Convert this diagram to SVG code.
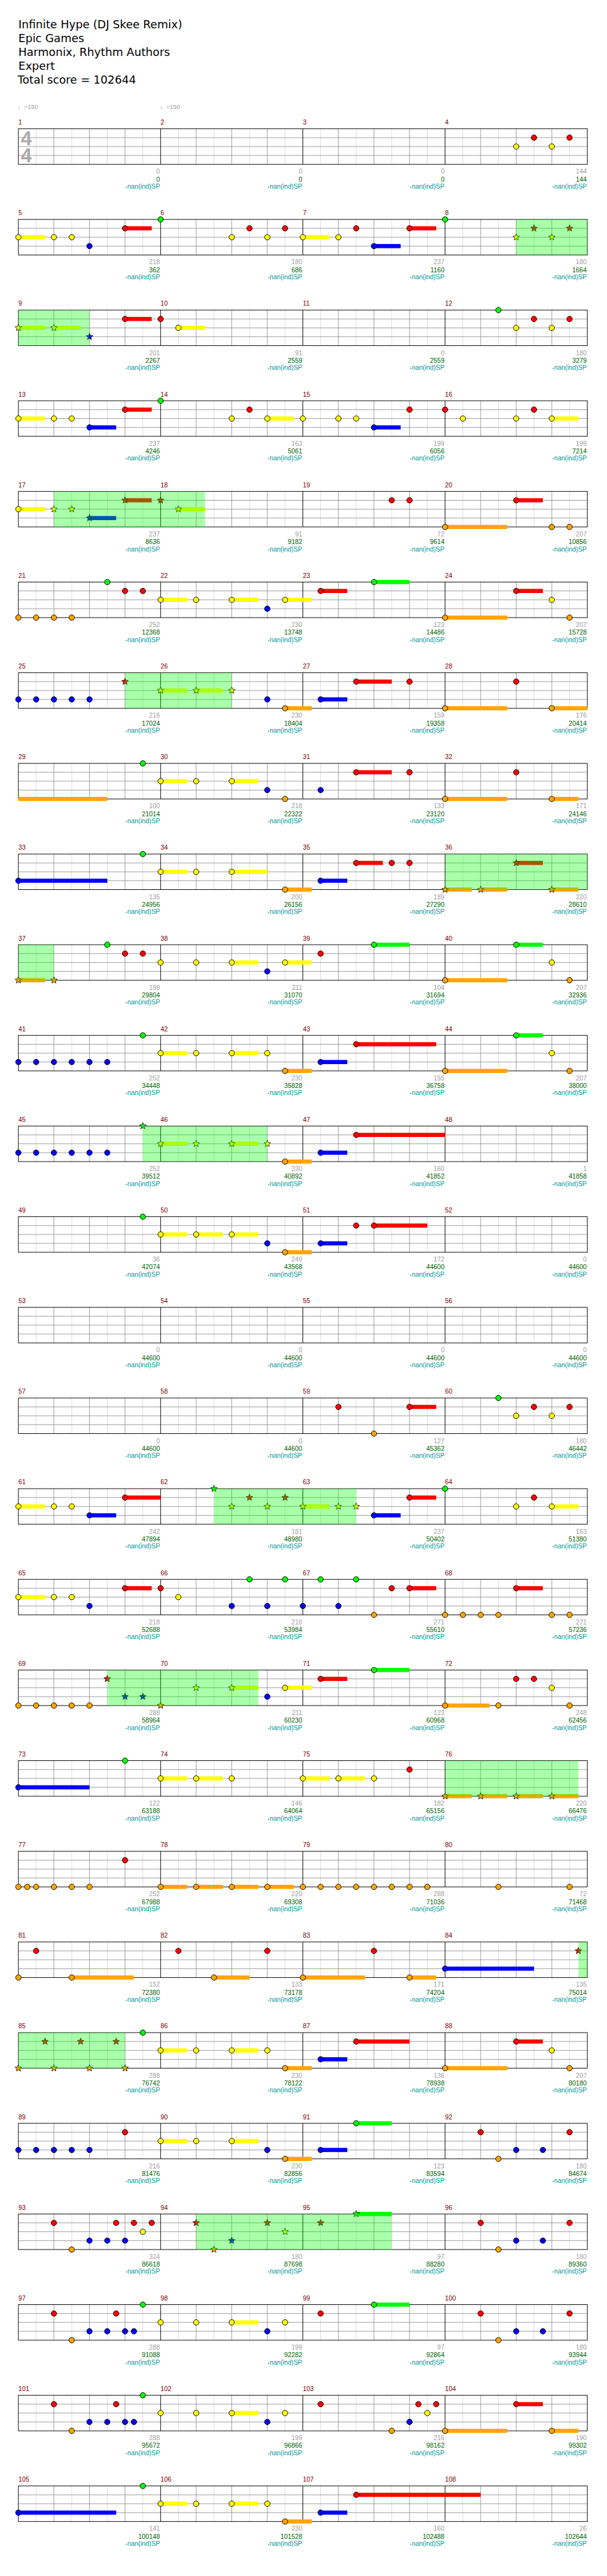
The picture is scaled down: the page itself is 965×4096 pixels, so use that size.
<svg xmlns="http://www.w3.org/2000/svg" xmlns:xlink="http://www.w3.org/1999/xlink" width="965" height="4096" viewBox="0 0 965 4096">
<style>
.t{font-family:"DejaVu Sans",sans-serif;font-size:18.8px;fill:#000}
.row{font-family:"Liberation Sans",Arial,sans-serif;font-size:11px}
.tempo{font-family:"Liberation Sans","DejaVu Sans",sans-serif;font-size:10.5px;fill:#999}
.ts{font-family:"Liberation Sans",Arial,sans-serif;font-size:33px;font-weight:bold;fill:#aaa}
.m{fill:#800000}
.a{fill:#a0a0a0;text-anchor:end}
.b{fill:#006400;text-anchor:end}
.c{fill:#009999;text-anchor:end}
.sp{fill:#00ff00;fill-opacity:0.333}
.n{stroke:#000;stroke-width:1}
.hg{fill:#00ff00}.hr{fill:#ff0000}.hy{fill:#ffff00}.hb{fill:#0000ff}.ho{fill:#ffa500}
</style>
<defs>
<g id="staff">
<path d="M30 0v60M90 0v60M150 0v60M210 0v60M270 0v60M330 0v60M390 0v60M450 0v60M510 0v60M570 0v60M630 0v60M690 0v60M750 0v60M810 0v60M870 0v60M930 0v60" stroke="#dcdcdc" fill="none"/>
<path d="M0 15h960M0 30h960M0 45h960M60 0v60M120 0v60M180 0v60M300 0v60M360 0v60M420 0v60M540 0v60M600 0v60M660 0v60M780 0v60M840 0v60M900 0v60" stroke="#999" fill="none"/>
<path d="M240 0v60M480 0v60M720 0v60" stroke="#000" fill="none"/>
<rect width="960" height="60" fill="none" stroke="#000"/>
</g>
<circle id="g" r="4.6" fill="#00ff00" class="n"/>
<circle id="r" cy="15" r="4.6" fill="#ff0000" class="n"/>
<circle id="y" cy="30" r="4.6" fill="#ffff00" class="n"/>
<circle id="b" cy="45" r="4.6" fill="#0000ff" class="n"/>
<circle id="o" cy="60" r="4.6" fill="#ffa500" class="n"/>
<path id="S" d="M0-6L1.53-2.1L5.71-1.85L2.47 .8L3.53 4.85L0 2.6L-3.53 4.85L-2.47 .8L-5.71-1.85L-1.53-2.1Z" stroke="#000" stroke-width="0.8"/>
<use id="sg" href="#S" fill="#00ff00"/>
<use id="sr" href="#S" y="15" fill="#ff0000"/>
<use id="sy" href="#S" y="30" fill="#ffff00"/>
<use id="sb" href="#S" y="45" fill="#0000ff"/>
<use id="so" href="#S" y="60" fill="#ffa500"/>
</defs>
<rect width="965" height="4096" fill="#fff"/>
<g transform="scale(0.9422)">
<g id="header" class="t">
<text x="31" y="48">Infinite Hype (DJ Skee Remix)</text>
<text x="31" y="71">Epic Games</text>
<text x="31" y="94.5">Harmonix, Rhythm Authors</text>
<text x="31" y="118">Expert</text>
<text x="29.7" y="141">Total score = 102644</text>
</g>
<g id="tempo" class="tempo">
<text x="30" y="184">♩=150</text>
<text x="270" y="184">♩=150</text>
</g>

<g id="row1" class="row" transform="translate(31 217.3)"><use href="#staff"/>
<text class="ts" x="4.3" y="28">4</text><text class="ts" x="4.3" y="57">4</text>
<g id="m1"><text class="m" x="0" y="-7">1</text><text class="a" x="239" y="76">0</text><text class="b" x="239" y="89">0</text><text class="c" x="239" y="101">-nan(ind)SP</text></g>
<g id="m2"><text class="m" x="240" y="-7">2</text><text class="a" x="479" y="76">0</text><text class="b" x="479" y="89">0</text><text class="c" x="479" y="101">-nan(ind)SP</text></g>
<g id="m3"><text class="m" x="480" y="-7">3</text><text class="a" x="719" y="76">0</text><text class="b" x="719" y="89">0</text><text class="c" x="719" y="101">-nan(ind)SP</text></g>
<g id="m4"><text class="m" x="720" y="-7">4</text><text class="a" x="959" y="76">144</text><text class="b" x="959" y="89">144</text><text class="c" x="959" y="101">-nan(ind)SP</text>
<use href="#y" x="840"/><use href="#r" x="870"/><use href="#y" x="900"/><use href="#r" x="930"/></g>
</g>

<g id="row2" class="row" transform="translate(31 370.3)"><use href="#staff"/>
<g id="m5"><text class="m" x="0" y="-7">5</text><text class="a" x="239" y="76">218</text><text class="b" x="239" y="89">362</text><text class="c" x="239" y="101">-nan(ind)SP</text>
<rect class="hy" x="0" y="26.5" width="45" height="7"/><rect class="hr" x="180" y="11.5" width="45" height="7"/>
<use href="#y" x="0"/><use href="#y" x="60"/><use href="#y" x="90"/><use href="#b" x="120"/><use href="#r" x="180"/></g>
<g id="m6"><text class="m" x="240" y="-7">6</text><text class="a" x="479" y="76">180</text><text class="b" x="479" y="89">686</text><text class="c" x="479" y="101">-nan(ind)SP</text>
<use href="#g" x="240"/><use href="#y" x="360"/><use href="#r" x="390"/><use href="#y" x="420"/><use href="#r" x="450"/></g>
<g id="m7"><text class="m" x="480" y="-7">7</text><text class="a" x="719" y="76">237</text><text class="b" x="719" y="89">1160</text><text class="c" x="719" y="101">-nan(ind)SP</text>
<rect class="hy" x="480" y="26.5" width="45" height="7"/><rect class="hb" x="600" y="41.5" width="45" height="7"/><rect class="hr" x="660" y="11.5" width="45" height="7"/>
<use href="#y" x="480"/><use href="#y" x="540"/><use href="#r" x="570"/><use href="#b" x="600"/><use href="#r" x="660"/></g>
<g id="m8"><text class="m" x="720" y="-7">8</text><text class="a" x="959" y="76">180</text><text class="b" x="959" y="89">1664</text><text class="c" x="959" y="101">-nan(ind)SP</text>
<use href="#g" x="720"/><use href="#sy" x="840"/><use href="#sr" x="870"/><use href="#sy" x="900"/><use href="#sr" x="930"/></g>
<rect class="sp" x="840" y="0" width="120" height="60"/>
</g>

<g id="row3" class="row" transform="translate(31 523.3)"><use href="#staff"/>
<g id="m9"><text class="m" x="0" y="-7">9</text><text class="a" x="239" y="76">201</text><text class="b" x="239" y="89">2267</text><text class="c" x="239" y="101">-nan(ind)SP</text>
<rect class="hy" x="0" y="26.5" width="45" height="7"/><rect class="hy" x="60" y="26.5" width="45" height="7"/><rect class="hr" x="180" y="11.5" width="45" height="7"/>
<use href="#sy" x="0"/><use href="#sy" x="60"/><use href="#sb" x="120"/><use href="#r" x="180"/></g>
<g id="m10"><text class="m" x="240" y="-7">10</text><text class="a" x="479" y="76">91</text><text class="b" x="479" y="89">2559</text><text class="c" x="479" y="101">-nan(ind)SP</text>
<rect class="hy" x="270" y="26.5" width="45" height="7"/>
<use href="#r" x="240"/><use href="#y" x="270"/></g>
<g id="m11"><text class="m" x="480" y="-7">11</text><text class="a" x="719" y="76">0</text><text class="b" x="719" y="89">2559</text><text class="c" x="719" y="101">-nan(ind)SP</text></g>
<g id="m12"><text class="m" x="720" y="-7">12</text><text class="a" x="959" y="76">180</text><text class="b" x="959" y="89">3279</text><text class="c" x="959" y="101">-nan(ind)SP</text>
<use href="#g" x="810"/><use href="#y" x="840"/><use href="#r" x="870"/><use href="#y" x="900"/><use href="#r" x="930"/></g>
<rect class="sp" x="0" y="0" width="120" height="60"/>
</g>

<g id="row4" class="row" transform="translate(31 676.3)"><use href="#staff"/>
<g id="m13"><text class="m" x="0" y="-7">13</text><text class="a" x="239" y="76">237</text><text class="b" x="239" y="89">4246</text><text class="c" x="239" y="101">-nan(ind)SP</text>
<rect class="hy" x="0" y="26.5" width="45" height="7"/><rect class="hb" x="120" y="41.5" width="45" height="7"/><rect class="hr" x="180" y="11.5" width="45" height="7"/>
<use href="#y" x="0"/><use href="#y" x="60"/><use href="#y" x="90"/><use href="#b" x="120"/><use href="#r" x="180"/></g>
<g id="m14"><text class="m" x="240" y="-7">14</text><text class="a" x="479" y="76">163</text><text class="b" x="479" y="89">5061</text><text class="c" x="479" y="101">-nan(ind)SP</text>
<rect class="hy" x="420" y="26.5" width="45" height="7"/>
<use href="#g" x="240"/><use href="#y" x="360"/><use href="#r" x="390"/><use href="#y" x="420"/></g>
<g id="m15"><text class="m" x="480" y="-7">15</text><text class="a" x="719" y="76">199</text><text class="b" x="719" y="89">6056</text><text class="c" x="719" y="101">-nan(ind)SP</text>
<rect class="hb" x="600" y="41.5" width="45" height="7"/>
<use href="#y" x="480"/><use href="#y" x="540"/><use href="#y" x="570"/><use href="#b" x="600"/><use href="#r" x="660"/></g>
<g id="m16"><text class="m" x="720" y="-7">16</text><text class="a" x="959" y="76">199</text><text class="b" x="959" y="89">7214</text><text class="c" x="959" y="101">-nan(ind)SP</text>
<rect class="hy" x="900" y="26.5" width="45" height="7"/>
<use href="#r" x="720"/><use href="#y" x="750"/><use href="#y" x="840"/><use href="#r" x="870"/><use href="#y" x="900"/></g>
</g>

<g id="row5" class="row" transform="translate(31 829.3)"><use href="#staff"/>
<g id="m17"><text class="m" x="0" y="-7">17</text><text class="a" x="239" y="76">237</text><text class="b" x="239" y="89">8636</text><text class="c" x="239" y="101">-nan(ind)SP</text>
<rect class="hy" x="0" y="26.5" width="45" height="7"/><rect class="hb" x="120" y="41.5" width="45" height="7"/><rect class="hr" x="180" y="11.5" width="45" height="7"/>
<use href="#y" x="0"/><use href="#sy" x="60"/><use href="#sy" x="90"/><use href="#sb" x="120"/><use href="#sr" x="180"/></g>
<g id="m18"><text class="m" x="240" y="-7">18</text><text class="a" x="479" y="76">91</text><text class="b" x="479" y="89">9182</text><text class="c" x="479" y="101">-nan(ind)SP</text>
<rect class="hy" x="270" y="26.5" width="45" height="7"/>
<use href="#sr" x="240"/><use href="#sy" x="270"/></g>
<g id="m19"><text class="m" x="480" y="-7">19</text><text class="a" x="719" y="76">72</text><text class="b" x="719" y="89">9614</text><text class="c" x="719" y="101">-nan(ind)SP</text>
<use href="#r" x="630"/><use href="#r" x="660"/></g>
<g id="m20"><text class="m" x="720" y="-7">20</text><text class="a" x="959" y="76">207</text><text class="b" x="959" y="89">10856</text><text class="c" x="959" y="101">-nan(ind)SP</text>
<rect class="ho" x="720" y="56.5" width="105" height="7"/><rect class="hr" x="840" y="11.5" width="45" height="7"/>
<use href="#o" x="720"/><use href="#r" x="840"/><use href="#o" x="900"/><use href="#o" x="930"/></g>
<rect class="sp" x="60" y="0" width="255" height="60"/>
</g>

<g id="row6" class="row" transform="translate(31 982.3)"><use href="#staff"/>
<g id="m21"><text class="m" x="0" y="-7">21</text><text class="a" x="239" y="76">252</text><text class="b" x="239" y="89">12368</text><text class="c" x="239" y="101">-nan(ind)SP</text>
<use href="#o" x="0"/><use href="#o" x="30"/><use href="#o" x="60"/><use href="#o" x="90"/><use href="#g" x="150"/><use href="#r" x="180"/><use href="#r" x="210"/></g>
<g id="m22"><text class="m" x="240" y="-7">22</text><text class="a" x="479" y="76">230</text><text class="b" x="479" y="89">13748</text><text class="c" x="479" y="101">-nan(ind)SP</text>
<rect class="hy" x="240" y="26.5" width="45" height="7"/><rect class="hy" x="360" y="26.5" width="45" height="7"/><rect class="hy" x="450" y="26.5" width="45" height="7"/>
<use href="#y" x="240"/><use href="#y" x="300"/><use href="#y" x="360"/><use href="#b" x="420"/><use href="#y" x="450"/></g>
<g id="m23"><text class="m" x="480" y="-7">23</text><text class="a" x="719" y="76">123</text><text class="b" x="719" y="89">14486</text><text class="c" x="719" y="101">-nan(ind)SP</text>
<rect class="hr" x="510" y="11.5" width="45" height="7"/><rect class="hg" x="600" y="-3.5" width="60" height="7"/>
<use href="#r" x="510"/><use href="#g" x="600"/></g>
<g id="m24"><text class="m" x="720" y="-7">24</text><text class="a" x="959" y="76">207</text><text class="b" x="959" y="89">15728</text><text class="c" x="959" y="101">-nan(ind)SP</text>
<rect class="ho" x="720" y="56.5" width="105" height="7"/><rect class="hr" x="840" y="11.5" width="45" height="7"/>
<use href="#o" x="720"/><use href="#r" x="840"/><use href="#y" x="900"/><use href="#o" x="930"/></g>
</g>

<g id="row7" class="row" transform="translate(31 1135.3)"><use href="#staff"/>
<g id="m25"><text class="m" x="0" y="-7">25</text><text class="a" x="239" y="76">216</text><text class="b" x="239" y="89">17024</text><text class="c" x="239" y="101">-nan(ind)SP</text>
<use href="#b" x="0"/><use href="#b" x="30"/><use href="#b" x="60"/><use href="#b" x="90"/><use href="#b" x="120"/><use href="#sr" x="180"/></g>
<g id="m26"><text class="m" x="240" y="-7">26</text><text class="a" x="479" y="76">230</text><text class="b" x="479" y="89">18404</text><text class="c" x="479" y="101">-nan(ind)SP</text>
<rect class="hy" x="240" y="26.5" width="45" height="7"/><rect class="hy" x="300" y="26.5" width="45" height="7"/><rect class="ho" x="450" y="56.5" width="45" height="7"/>
<use href="#sy" x="240"/><use href="#sy" x="300"/><use href="#sy" x="360"/><use href="#b" x="420"/><use href="#o" x="450"/></g>
<g id="m27"><text class="m" x="480" y="-7">27</text><text class="a" x="719" y="76">159</text><text class="b" x="719" y="89">19358</text><text class="c" x="719" y="101">-nan(ind)SP</text>
<rect class="hb" x="510" y="41.5" width="45" height="7"/><rect class="hr" x="570" y="11.5" width="60" height="7"/>
<use href="#b" x="510"/><use href="#r" x="570"/><use href="#r" x="660"/></g>
<g id="m28"><text class="m" x="720" y="-7">28</text><text class="a" x="959" y="76">176</text><text class="b" x="959" y="89">20414</text><text class="c" x="959" y="101">-nan(ind)SP</text>
<rect class="ho" x="720" y="56.5" width="105" height="7"/><rect class="ho" x="900" y="56.5" width="60" height="7"/>
<use href="#o" x="720"/><use href="#r" x="840"/><use href="#o" x="900"/></g>
<rect class="sp" x="180" y="0" width="180" height="60"/>
</g>

<g id="row8" class="row" transform="translate(31 1288.3)"><use href="#staff"/>
<g id="m29"><text class="m" x="0" y="-7">29</text><text class="a" x="239" y="76">100</text><text class="b" x="239" y="89">21014</text><text class="c" x="239" y="101">-nan(ind)SP</text>
<rect class="ho" x="0" y="56.5" width="150" height="7"/>
<use href="#g" x="210"/></g>
<g id="m30"><text class="m" x="240" y="-7">30</text><text class="a" x="479" y="76">218</text><text class="b" x="479" y="89">22322</text><text class="c" x="479" y="101">-nan(ind)SP</text>
<rect class="hy" x="240" y="26.5" width="45" height="7"/><rect class="hy" x="360" y="26.5" width="45" height="7"/>
<use href="#y" x="240"/><use href="#y" x="300"/><use href="#y" x="360"/><use href="#b" x="420"/><use href="#o" x="450"/></g>
<g id="m31"><text class="m" x="480" y="-7">31</text><text class="a" x="719" y="76">133</text><text class="b" x="719" y="89">23120</text><text class="c" x="719" y="101">-nan(ind)SP</text>
<rect class="hr" x="570" y="11.5" width="60" height="7"/>
<use href="#b" x="510"/><use href="#r" x="570"/><use href="#r" x="660"/></g>
<g id="m32"><text class="m" x="720" y="-7">32</text><text class="a" x="959" y="76">171</text><text class="b" x="959" y="89">24146</text><text class="c" x="959" y="101">-nan(ind)SP</text>
<rect class="ho" x="720" y="56.5" width="105" height="7"/><rect class="ho" x="900" y="56.5" width="45" height="7"/>
<use href="#o" x="720"/><use href="#r" x="840"/><use href="#o" x="900"/></g>
</g>

<g id="row9" class="row" transform="translate(31 1441.3)"><use href="#staff"/>
<g id="m33"><text class="m" x="0" y="-7">33</text><text class="a" x="239" y="76">135</text><text class="b" x="239" y="89">24956</text><text class="c" x="239" y="101">-nan(ind)SP</text>
<rect class="hb" x="0" y="41.5" width="150" height="7"/>
<use href="#b" x="0"/><use href="#g" x="210"/></g>
<g id="m34"><text class="m" x="240" y="-7">34</text><text class="a" x="479" y="76">200</text><text class="b" x="479" y="89">26156</text><text class="c" x="479" y="101">-nan(ind)SP</text>
<rect class="hy" x="240" y="26.5" width="45" height="7"/><rect class="hy" x="360" y="26.5" width="60" height="7"/><rect class="ho" x="450" y="56.5" width="45" height="7"/>
<use href="#y" x="240"/><use href="#y" x="300"/><use href="#y" x="360"/><use href="#o" x="450"/></g>
<g id="m35"><text class="m" x="480" y="-7">35</text><text class="a" x="719" y="76">189</text><text class="b" x="719" y="89">27290</text><text class="c" x="719" y="101">-nan(ind)SP</text>
<rect class="hb" x="510" y="41.5" width="45" height="7"/><rect class="hr" x="570" y="11.5" width="45" height="7"/>
<use href="#b" x="510"/><use href="#r" x="570"/><use href="#r" x="630"/><use href="#r" x="660"/></g>
<g id="m36"><text class="m" x="720" y="-7">36</text><text class="a" x="959" y="76">220</text><text class="b" x="959" y="89">28610</text><text class="c" x="959" y="101">-nan(ind)SP</text>
<rect class="ho" x="720" y="56.5" width="45" height="7"/><rect class="ho" x="780" y="56.5" width="45" height="7"/><rect class="hr" x="840" y="11.5" width="45" height="7"/><rect class="ho" x="900" y="56.5" width="45" height="7"/>
<use href="#so" x="720"/><use href="#so" x="780"/><use href="#sr" x="840"/><use href="#so" x="900"/></g>
<rect class="sp" x="720" y="0" width="240" height="60"/>
</g>

<g id="row10" class="row" transform="translate(31 1594.3)"><use href="#staff"/>
<g id="m37"><text class="m" x="0" y="-7">37</text><text class="a" x="239" y="76">199</text><text class="b" x="239" y="89">29804</text><text class="c" x="239" y="101">-nan(ind)SP</text>
<rect class="ho" x="0" y="56.5" width="45" height="7"/>
<use href="#so" x="0"/><use href="#so" x="60"/><use href="#g" x="150"/><use href="#r" x="180"/><use href="#r" x="210"/></g>
<g id="m38"><text class="m" x="240" y="-7">38</text><text class="a" x="479" y="76">211</text><text class="b" x="479" y="89">31070</text><text class="c" x="479" y="101">-nan(ind)SP</text>
<rect class="hy" x="360" y="26.5" width="45" height="7"/><rect class="hy" x="450" y="26.5" width="45" height="7"/>
<use href="#y" x="240"/><use href="#y" x="300"/><use href="#y" x="360"/><use href="#b" x="420"/><use href="#y" x="450"/></g>
<g id="m39"><text class="m" x="480" y="-7">39</text><text class="a" x="719" y="76">104</text><text class="b" x="719" y="89">31694</text><text class="c" x="719" y="101">-nan(ind)SP</text>
<rect class="hg" x="600" y="-3.5" width="60" height="7"/>
<use href="#r" x="510"/><use href="#g" x="600"/></g>
<g id="m40"><text class="m" x="720" y="-7">40</text><text class="a" x="959" y="76">207</text><text class="b" x="959" y="89">32936</text><text class="c" x="959" y="101">-nan(ind)SP</text>
<rect class="ho" x="720" y="56.5" width="105" height="7"/><rect class="hg" x="840" y="-3.5" width="45" height="7"/>
<use href="#o" x="720"/><use href="#g" x="840"/><use href="#y" x="900"/><use href="#o" x="930"/></g>
<rect class="sp" x="0" y="0" width="60" height="60"/>
</g>

<g id="row11" class="row" transform="translate(31 1747.3)"><use href="#staff"/>
<g id="m41"><text class="m" x="0" y="-7">41</text><text class="a" x="239" y="76">252</text><text class="b" x="239" y="89">34448</text><text class="c" x="239" y="101">-nan(ind)SP</text>
<use href="#b" x="0"/><use href="#b" x="30"/><use href="#b" x="60"/><use href="#b" x="90"/><use href="#b" x="120"/><use href="#b" x="150"/><use href="#g" x="210"/></g>
<g id="m42"><text class="m" x="240" y="-7">42</text><text class="a" x="479" y="76">230</text><text class="b" x="479" y="89">35828</text><text class="c" x="479" y="101">-nan(ind)SP</text>
<rect class="hy" x="240" y="26.5" width="45" height="7"/><rect class="hy" x="360" y="26.5" width="45" height="7"/><rect class="ho" x="450" y="56.5" width="45" height="7"/>
<use href="#y" x="240"/><use href="#y" x="300"/><use href="#y" x="360"/><use href="#y" x="420"/><use href="#o" x="450"/></g>
<g id="m43"><text class="m" x="480" y="-7">43</text><text class="a" x="719" y="76">155</text><text class="b" x="719" y="89">36758</text><text class="c" x="719" y="101">-nan(ind)SP</text>
<rect class="hb" x="510" y="41.5" width="45" height="7"/><rect class="hr" x="570" y="11.5" width="135" height="7"/>
<use href="#b" x="510"/><use href="#r" x="570"/></g>
<g id="m44"><text class="m" x="720" y="-7">44</text><text class="a" x="959" y="76">207</text><text class="b" x="959" y="89">38000</text><text class="c" x="959" y="101">-nan(ind)SP</text>
<rect class="ho" x="720" y="56.5" width="105" height="7"/><rect class="hg" x="840" y="-3.5" width="45" height="7"/>
<use href="#o" x="720"/><use href="#g" x="840"/><use href="#y" x="900"/><use href="#o" x="930"/></g>
</g>

<g id="row12" class="row" transform="translate(31 1900.3)"><use href="#staff"/>
<g id="m45"><text class="m" x="0" y="-7">45</text><text class="a" x="239" y="76">252</text><text class="b" x="239" y="89">39512</text><text class="c" x="239" y="101">-nan(ind)SP</text>
<use href="#b" x="0"/><use href="#b" x="30"/><use href="#b" x="60"/><use href="#b" x="90"/><use href="#b" x="120"/><use href="#b" x="150"/><use href="#sg" x="210"/></g>
<g id="m46"><text class="m" x="240" y="-7">46</text><text class="a" x="479" y="76">230</text><text class="b" x="479" y="89">40892</text><text class="c" x="479" y="101">-nan(ind)SP</text>
<rect class="hy" x="240" y="26.5" width="45" height="7"/><rect class="hy" x="360" y="26.5" width="45" height="7"/><rect class="ho" x="450" y="56.5" width="45" height="7"/>
<use href="#sy" x="240"/><use href="#sy" x="300"/><use href="#sy" x="360"/><use href="#sy" x="420"/><use href="#o" x="450"/></g>
<g id="m47"><text class="m" x="480" y="-7">47</text><text class="a" x="719" y="76">160</text><text class="b" x="719" y="89">41852</text><text class="c" x="719" y="101">-nan(ind)SP</text>
<rect class="hb" x="510" y="41.5" width="45" height="7"/><rect class="hr" x="570" y="11.5" width="150" height="7"/>
<use href="#b" x="510"/><use href="#r" x="570"/></g>
<g id="m48"><text class="m" x="720" y="-7">48</text><text class="a" x="959" y="76">1</text><text class="b" x="959" y="89">41858</text><text class="c" x="959" y="101">-nan(ind)SP</text></g>
<rect class="sp" x="210" y="0" width="210" height="60"/>
</g>

<g id="row13" class="row" transform="translate(31 2053.3)"><use href="#staff"/>
<g id="m49"><text class="m" x="0" y="-7">49</text><text class="a" x="239" y="76">36</text><text class="b" x="239" y="89">42074</text><text class="c" x="239" y="101">-nan(ind)SP</text>
<use href="#g" x="210"/></g>
<g id="m50"><text class="m" x="240" y="-7">50</text><text class="a" x="479" y="76">249</text><text class="b" x="479" y="89">43568</text><text class="c" x="479" y="101">-nan(ind)SP</text>
<rect class="hy" x="240" y="26.5" width="45" height="7"/><rect class="hy" x="300" y="26.5" width="45" height="7"/><rect class="hy" x="360" y="26.5" width="45" height="7"/><rect class="ho" x="450" y="56.5" width="45" height="7"/>
<use href="#y" x="240"/><use href="#y" x="300"/><use href="#y" x="360"/><use href="#b" x="420"/><use href="#o" x="450"/></g>
<g id="m51"><text class="m" x="480" y="-7">51</text><text class="a" x="719" y="76">172</text><text class="b" x="719" y="89">44600</text><text class="c" x="719" y="101">-nan(ind)SP</text>
<rect class="hb" x="510" y="41.5" width="45" height="7"/><rect class="hr" x="600" y="11.5" width="90" height="7"/>
<use href="#b" x="510"/><use href="#r" x="570"/><use href="#r" x="600"/></g>
<g id="m52"><text class="m" x="720" y="-7">52</text><text class="a" x="959" y="76">0</text><text class="b" x="959" y="89">44600</text><text class="c" x="959" y="101">-nan(ind)SP</text></g>
</g>

<g id="row14" class="row" transform="translate(31 2206.3)"><use href="#staff"/>
<g id="m53"><text class="m" x="0" y="-7">53</text><text class="a" x="239" y="76">0</text><text class="b" x="239" y="89">44600</text><text class="c" x="239" y="101">-nan(ind)SP</text></g>
<g id="m54"><text class="m" x="240" y="-7">54</text><text class="a" x="479" y="76">0</text><text class="b" x="479" y="89">44600</text><text class="c" x="479" y="101">-nan(ind)SP</text></g>
<g id="m55"><text class="m" x="480" y="-7">55</text><text class="a" x="719" y="76">0</text><text class="b" x="719" y="89">44600</text><text class="c" x="719" y="101">-nan(ind)SP</text></g>
<g id="m56"><text class="m" x="720" y="-7">56</text><text class="a" x="959" y="76">0</text><text class="b" x="959" y="89">44600</text><text class="c" x="959" y="101">-nan(ind)SP</text></g>
</g>

<g id="row15" class="row" transform="translate(31 2359.3)"><use href="#staff"/>
<g id="m57"><text class="m" x="0" y="-7">57</text><text class="a" x="239" y="76">0</text><text class="b" x="239" y="89">44600</text><text class="c" x="239" y="101">-nan(ind)SP</text></g>
<g id="m58"><text class="m" x="240" y="-7">58</text><text class="a" x="479" y="76">0</text><text class="b" x="479" y="89">44600</text><text class="c" x="479" y="101">-nan(ind)SP</text></g>
<g id="m59"><text class="m" x="480" y="-7">59</text><text class="a" x="719" y="76">127</text><text class="b" x="719" y="89">45362</text><text class="c" x="719" y="101">-nan(ind)SP</text>
<rect class="hr" x="660" y="11.5" width="45" height="7"/>
<use href="#r" x="540"/><use href="#o" x="600"/><use href="#r" x="660"/></g>
<g id="m60"><text class="m" x="720" y="-7">60</text><text class="a" x="959" y="76">180</text><text class="b" x="959" y="89">46442</text><text class="c" x="959" y="101">-nan(ind)SP</text>
<use href="#g" x="810"/><use href="#y" x="840"/><use href="#r" x="870"/><use href="#y" x="900"/><use href="#r" x="930"/></g>
</g>

<g id="row16" class="row" transform="translate(31 2512.3)"><use href="#staff"/>
<g id="m61"><text class="m" x="0" y="-7">61</text><text class="a" x="239" y="76">242</text><text class="b" x="239" y="89">47894</text><text class="c" x="239" y="101">-nan(ind)SP</text>
<rect class="hy" x="0" y="26.5" width="45" height="7"/><rect class="hb" x="120" y="41.5" width="45" height="7"/><rect class="hr" x="180" y="11.5" width="60" height="7"/>
<use href="#y" x="0"/><use href="#y" x="60"/><use href="#y" x="90"/><use href="#b" x="120"/><use href="#r" x="180"/></g>
<g id="m62"><text class="m" x="240" y="-7">62</text><text class="a" x="479" y="76">181</text><text class="b" x="479" y="89">48980</text><text class="c" x="479" y="101">-nan(ind)SP</text>
<use href="#sg" x="330"/><use href="#sy" x="360"/><use href="#sr" x="390"/><use href="#sy" x="420"/><use href="#sr" x="450"/></g>
<g id="m63"><text class="m" x="480" y="-7">63</text><text class="a" x="719" y="76">237</text><text class="b" x="719" y="89">50402</text><text class="c" x="719" y="101">-nan(ind)SP</text>
<rect class="hy" x="480" y="26.5" width="45" height="7"/><rect class="hb" x="600" y="41.5" width="45" height="7"/><rect class="hr" x="660" y="11.5" width="45" height="7"/>
<use href="#sy" x="480"/><use href="#sy" x="540"/><use href="#sy" x="570"/><use href="#b" x="600"/><use href="#r" x="660"/></g>
<g id="m64"><text class="m" x="720" y="-7">64</text><text class="a" x="959" y="76">163</text><text class="b" x="959" y="89">51380</text><text class="c" x="959" y="101">-nan(ind)SP</text>
<rect class="hy" x="900" y="26.5" width="45" height="7"/>
<use href="#g" x="720"/><use href="#y" x="840"/><use href="#r" x="870"/><use href="#y" x="900"/></g>
<rect class="sp" x="330" y="0" width="240" height="60"/>
</g>

<g id="row17" class="row" transform="translate(31 2665.3)"><use href="#staff"/>
<g id="m65"><text class="m" x="0" y="-7">65</text><text class="a" x="239" y="76">218</text><text class="b" x="239" y="89">52688</text><text class="c" x="239" y="101">-nan(ind)SP</text>
<rect class="hy" x="0" y="26.5" width="45" height="7"/><rect class="hr" x="180" y="11.5" width="45" height="7"/>
<use href="#y" x="0"/><use href="#y" x="60"/><use href="#y" x="90"/><use href="#b" x="120"/><use href="#r" x="180"/></g>
<g id="m66"><text class="m" x="240" y="-7">66</text><text class="a" x="479" y="76">216</text><text class="b" x="479" y="89">53984</text><text class="c" x="479" y="101">-nan(ind)SP</text>
<use href="#r" x="240"/><use href="#y" x="270"/><use href="#b" x="360"/><use href="#g" x="390"/><use href="#b" x="420"/><use href="#g" x="450"/></g>
<g id="m67"><text class="m" x="480" y="-7">67</text><text class="a" x="719" y="76">271</text><text class="b" x="719" y="89">55610</text><text class="c" x="719" y="101">-nan(ind)SP</text>
<rect class="hr" x="660" y="11.5" width="45" height="7"/>
<use href="#b" x="480"/><use href="#g" x="510"/><use href="#b" x="540"/><use href="#g" x="570"/><use href="#o" x="600"/><use href="#r" x="630"/><use href="#r" x="660"/></g>
<g id="m68"><text class="m" x="720" y="-7">68</text><text class="a" x="959" y="76">271</text><text class="b" x="959" y="89">57236</text><text class="c" x="959" y="101">-nan(ind)SP</text>
<rect class="hr" x="840" y="11.5" width="45" height="7"/>
<use href="#o" x="720"/><use href="#o" x="750"/><use href="#o" x="780"/><use href="#o" x="810"/><use href="#r" x="840"/><use href="#o" x="900"/><use href="#o" x="930"/></g>
</g>

<g id="row18" class="row" transform="translate(31 2818.3)"><use href="#staff"/>
<g id="m69"><text class="m" x="0" y="-7">69</text><text class="a" x="239" y="76">288</text><text class="b" x="239" y="89">58964</text><text class="c" x="239" y="101">-nan(ind)SP</text>
<use href="#o" x="0"/><use href="#o" x="30"/><use href="#o" x="60"/><use href="#o" x="90"/><use href="#o" x="120"/><use href="#sr" x="150"/><use href="#sb" x="180"/><use href="#sb" x="210"/></g>
<g id="m70"><text class="m" x="240" y="-7">70</text><text class="a" x="479" y="76">211</text><text class="b" x="479" y="89">60230</text><text class="c" x="479" y="101">-nan(ind)SP</text>
<rect class="hy" x="360" y="26.5" width="45" height="7"/><rect class="hy" x="450" y="26.5" width="45" height="7"/>
<use href="#so" x="240"/><use href="#sy" x="300"/><use href="#sy" x="360"/><use href="#b" x="420"/><use href="#y" x="450"/></g>
<g id="m71"><text class="m" x="480" y="-7">71</text><text class="a" x="719" y="76">123</text><text class="b" x="719" y="89">60968</text><text class="c" x="719" y="101">-nan(ind)SP</text>
<rect class="hr" x="510" y="11.5" width="45" height="7"/><rect class="hg" x="600" y="-3.5" width="60" height="7"/>
<use href="#r" x="510"/><use href="#g" x="600"/></g>
<g id="m72"><text class="m" x="720" y="-7">72</text><text class="a" x="959" y="76">248</text><text class="b" x="959" y="89">62456</text><text class="c" x="959" y="101">-nan(ind)SP</text>
<rect class="ho" x="720" y="56.5" width="75" height="7"/>
<use href="#o" x="720"/><use href="#o" x="810"/><use href="#r" x="840"/><use href="#r" x="870"/><use href="#y" x="900"/><use href="#o" x="930"/></g>
<rect class="sp" x="150" y="0" width="255" height="60"/>
</g>

<g id="row19" class="row" transform="translate(31 2971.3)"><use href="#staff"/>
<g id="m73"><text class="m" x="0" y="-7">73</text><text class="a" x="239" y="76">122</text><text class="b" x="239" y="89">63188</text><text class="c" x="239" y="101">-nan(ind)SP</text>
<rect class="hb" x="0" y="41.5" width="120" height="7"/>
<use href="#b" x="0"/><use href="#g" x="180"/></g>
<g id="m74"><text class="m" x="240" y="-7">74</text><text class="a" x="479" y="76">146</text><text class="b" x="479" y="89">64064</text><text class="c" x="479" y="101">-nan(ind)SP</text>
<rect class="hy" x="240" y="26.5" width="45" height="7"/><rect class="hy" x="300" y="26.5" width="45" height="7"/>
<use href="#y" x="240"/><use href="#y" x="300"/><use href="#y" x="360"/></g>
<g id="m75"><text class="m" x="480" y="-7">75</text><text class="a" x="719" y="76">182</text><text class="b" x="719" y="89">65156</text><text class="c" x="719" y="101">-nan(ind)SP</text>
<rect class="hy" x="480" y="26.5" width="45" height="7"/><rect class="hy" x="540" y="26.5" width="45" height="7"/>
<use href="#y" x="480"/><use href="#y" x="540"/><use href="#y" x="600"/><use href="#r" x="660"/></g>
<g id="m76"><text class="m" x="720" y="-7">76</text><text class="a" x="959" y="76">220</text><text class="b" x="959" y="89">66476</text><text class="c" x="959" y="101">-nan(ind)SP</text>
<rect class="ho" x="720" y="56.5" width="45" height="7"/><rect class="ho" x="780" y="56.5" width="45" height="7"/><rect class="ho" x="840" y="56.5" width="45" height="7"/><rect class="ho" x="900" y="56.5" width="45" height="7"/>
<use href="#so" x="720"/><use href="#so" x="780"/><use href="#so" x="840"/><use href="#so" x="900"/></g>
<rect class="sp" x="720" y="0" width="225" height="60"/>
</g>

<g id="row20" class="row" transform="translate(31 3124.3)"><use href="#staff"/>
<g id="m77"><text class="m" x="0" y="-7">77</text><text class="a" x="239" y="76">252</text><text class="b" x="239" y="89">67988</text><text class="c" x="239" y="101">-nan(ind)SP</text>
<use href="#o" x="0"/><use href="#o" x="15"/><use href="#o" x="30"/><use href="#o" x="60"/><use href="#o" x="90"/><use href="#o" x="120"/><use href="#r" x="180"/></g>
<g id="m78"><text class="m" x="240" y="-7">78</text><text class="a" x="479" y="76">220</text><text class="b" x="479" y="89">69308</text><text class="c" x="479" y="101">-nan(ind)SP</text>
<rect class="ho" x="240" y="56.5" width="45" height="7"/><rect class="ho" x="300" y="56.5" width="45" height="7"/><rect class="ho" x="360" y="56.5" width="45" height="7"/><rect class="ho" x="420" y="56.5" width="45" height="7"/>
<use href="#o" x="240"/><use href="#o" x="300"/><use href="#o" x="360"/><use href="#o" x="420"/></g>
<g id="m79"><text class="m" x="480" y="-7">79</text><text class="a" x="719" y="76">288</text><text class="b" x="719" y="89">71036</text><text class="c" x="719" y="101">-nan(ind)SP</text>
<use href="#o" x="480"/><use href="#o" x="510"/><use href="#o" x="540"/><use href="#o" x="570"/><use href="#o" x="600"/><use href="#o" x="630"/><use href="#o" x="660"/><use href="#o" x="690"/></g>
<g id="m80"><text class="m" x="720" y="-7">80</text><text class="a" x="959" y="76">72</text><text class="b" x="959" y="89">71468</text><text class="c" x="959" y="101">-nan(ind)SP</text>
<use href="#o" x="810"/><use href="#o" x="930"/></g>
</g>

<g id="row21" class="row" transform="translate(31 3277.3)"><use href="#staff"/>
<g id="m81"><text class="m" x="0" y="-7">81</text><text class="a" x="239" y="76">152</text><text class="b" x="239" y="89">72380</text><text class="c" x="239" y="101">-nan(ind)SP</text>
<rect class="ho" x="90" y="56.5" width="105" height="7"/>
<use href="#o" x="0"/><use href="#r" x="30"/><use href="#o" x="90"/></g>
<g id="m82"><text class="m" x="240" y="-7">82</text><text class="a" x="479" y="76">133</text><text class="b" x="479" y="89">73178</text><text class="c" x="479" y="101">-nan(ind)SP</text>
<rect class="ho" x="330" y="56.5" width="60" height="7"/>
<use href="#r" x="270"/><use href="#o" x="330"/><use href="#r" x="420"/></g>
<g id="m83"><text class="m" x="480" y="-7">83</text><text class="a" x="719" y="76">171</text><text class="b" x="719" y="89">74204</text><text class="c" x="719" y="101">-nan(ind)SP</text>
<rect class="ho" x="480" y="56.5" width="105" height="7"/><rect class="ho" x="660" y="56.5" width="45" height="7"/>
<use href="#o" x="480"/><use href="#r" x="600"/><use href="#o" x="660"/></g>
<g id="m84"><text class="m" x="720" y="-7">84</text><text class="a" x="959" y="76">135</text><text class="b" x="959" y="89">75014</text><text class="c" x="959" y="101">-nan(ind)SP</text>
<rect class="hb" x="720" y="41.5" width="150" height="7"/>
<use href="#b" x="720"/><use href="#sr" x="945"/></g>
<rect class="sp" x="945" y="0" width="15" height="60"/>
</g>

<g id="row22" class="row" transform="translate(31 3430.3)"><use href="#staff"/>
<g id="m85"><text class="m" x="0" y="-7">85</text><text class="a" x="239" y="76">288</text><text class="b" x="239" y="89">76742</text><text class="c" x="239" y="101">-nan(ind)SP</text>
<use href="#so" x="0"/><use href="#sr" x="45"/><use href="#so" x="60"/><use href="#sr" x="105"/><use href="#so" x="120"/><use href="#sr" x="165"/><use href="#so" x="180"/><use href="#g" x="210"/></g>
<g id="m86"><text class="m" x="240" y="-7">86</text><text class="a" x="479" y="76">230</text><text class="b" x="479" y="89">78122</text><text class="c" x="479" y="101">-nan(ind)SP</text>
<rect class="hy" x="240" y="26.5" width="45" height="7"/><rect class="hy" x="360" y="26.5" width="45" height="7"/><rect class="ho" x="450" y="56.5" width="45" height="7"/>
<use href="#y" x="240"/><use href="#y" x="300"/><use href="#y" x="360"/><use href="#y" x="420"/><use href="#o" x="450"/></g>
<g id="m87"><text class="m" x="480" y="-7">87</text><text class="a" x="719" y="76">136</text><text class="b" x="719" y="89">78938</text><text class="c" x="719" y="101">-nan(ind)SP</text>
<rect class="hb" x="510" y="41.5" width="45" height="7"/><rect class="hr" x="570" y="11.5" width="90" height="7"/>
<use href="#b" x="510"/><use href="#r" x="570"/></g>
<g id="m88"><text class="m" x="720" y="-7">88</text><text class="a" x="959" y="76">207</text><text class="b" x="959" y="89">80180</text><text class="c" x="959" y="101">-nan(ind)SP</text>
<rect class="ho" x="720" y="56.5" width="105" height="7"/><rect class="hr" x="840" y="11.5" width="45" height="7"/>
<use href="#o" x="720"/><use href="#r" x="840"/><use href="#y" x="900"/><use href="#o" x="930"/></g>
<rect class="sp" x="0" y="0" width="180" height="60"/>
</g>

<g id="row23" class="row" transform="translate(31 3583.3)"><use href="#staff"/>
<g id="m89"><text class="m" x="0" y="-7">89</text><text class="a" x="239" y="76">216</text><text class="b" x="239" y="89">81476</text><text class="c" x="239" y="101">-nan(ind)SP</text>
<use href="#b" x="0"/><use href="#b" x="30"/><use href="#b" x="60"/><use href="#b" x="90"/><use href="#b" x="120"/><use href="#r" x="180"/></g>
<g id="m90"><text class="m" x="240" y="-7">90</text><text class="a" x="479" y="76">230</text><text class="b" x="479" y="89">82856</text><text class="c" x="479" y="101">-nan(ind)SP</text>
<rect class="hy" x="240" y="26.5" width="45" height="7"/><rect class="hy" x="360" y="26.5" width="45" height="7"/><rect class="ho" x="450" y="56.5" width="45" height="7"/>
<use href="#y" x="240"/><use href="#y" x="300"/><use href="#y" x="360"/><use href="#b" x="420"/><use href="#o" x="450"/></g>
<g id="m91"><text class="m" x="480" y="-7">91</text><text class="a" x="719" y="76">123</text><text class="b" x="719" y="89">83594</text><text class="c" x="719" y="101">-nan(ind)SP</text>
<rect class="hb" x="510" y="41.5" width="45" height="7"/><rect class="hg" x="570" y="-3.5" width="60" height="7"/>
<use href="#b" x="510"/><use href="#g" x="570"/></g>
<g id="m92"><text class="m" x="720" y="-7">92</text><text class="a" x="959" y="76">180</text><text class="b" x="959" y="89">84674</text><text class="c" x="959" y="101">-nan(ind)SP</text>
<use href="#r" x="780"/><use href="#o" x="810"/><use href="#b" x="840"/><use href="#b" x="885"/><use href="#r" x="930"/></g>
</g>

<g id="row24" class="row" transform="translate(31 3736.3)"><use href="#staff"/>
<g id="m93"><text class="m" x="0" y="-7">93</text><text class="a" x="239" y="76">324</text><text class="b" x="239" y="89">86618</text><text class="c" x="239" y="101">-nan(ind)SP</text>
<use href="#r" x="60"/><use href="#o" x="90"/><use href="#b" x="120"/><use href="#b" x="150"/><use href="#r" x="165"/><use href="#b" x="180"/><use href="#r" x="195"/><use href="#y" x="210"/><use href="#r" x="225"/></g>
<g id="m94"><text class="m" x="240" y="-7">94</text><text class="a" x="479" y="76">180</text><text class="b" x="479" y="89">87698</text><text class="c" x="479" y="101">-nan(ind)SP</text>
<use href="#sr" x="300"/><use href="#so" x="330"/><use href="#sb" x="360"/><use href="#sr" x="420"/><use href="#sy" x="450"/></g>
<g id="m95"><text class="m" x="480" y="-7">95</text><text class="a" x="719" y="76">97</text><text class="b" x="719" y="89">88280</text><text class="c" x="719" y="101">-nan(ind)SP</text>
<rect class="hg" x="570" y="-3.5" width="60" height="7"/>
<use href="#sr" x="510"/><use href="#sg" x="570"/></g>
<g id="m96"><text class="m" x="720" y="-7">96</text><text class="a" x="959" y="76">180</text><text class="b" x="959" y="89">89360</text><text class="c" x="959" y="101">-nan(ind)SP</text>
<use href="#r" x="780"/><use href="#o" x="810"/><use href="#b" x="840"/><use href="#b" x="885"/><use href="#r" x="930"/></g>
<rect class="sp" x="300" y="0" width="330" height="60"/>
</g>

<g id="row25" class="row" transform="translate(31 3889.3)"><use href="#staff"/>
<g id="m97"><text class="m" x="0" y="-7">97</text><text class="a" x="239" y="76">288</text><text class="b" x="239" y="89">91088</text><text class="c" x="239" y="101">-nan(ind)SP</text>
<use href="#r" x="60"/><use href="#o" x="90"/><use href="#b" x="120"/><use href="#b" x="150"/><use href="#r" x="165"/><use href="#b" x="180"/><use href="#b" x="195"/><use href="#g" x="210"/></g>
<g id="m98"><text class="m" x="240" y="-7">98</text><text class="a" x="479" y="76">199</text><text class="b" x="479" y="89">92282</text><text class="c" x="479" y="101">-nan(ind)SP</text>
<rect class="hy" x="360" y="26.5" width="45" height="7"/>
<use href="#y" x="240"/><use href="#y" x="300"/><use href="#y" x="360"/><use href="#b" x="420"/><use href="#y" x="450"/></g>
<g id="m99"><text class="m" x="480" y="-7">99</text><text class="a" x="719" y="76">97</text><text class="b" x="719" y="89">92864</text><text class="c" x="719" y="101">-nan(ind)SP</text>
<rect class="hg" x="600" y="-3.5" width="60" height="7"/>
<use href="#r" x="510"/><use href="#g" x="600"/></g>
<g id="m100"><text class="m" x="720" y="-7">100</text><text class="a" x="959" y="76">180</text><text class="b" x="959" y="89">93944</text><text class="c" x="959" y="101">-nan(ind)SP</text>
<use href="#r" x="780"/><use href="#o" x="810"/><use href="#b" x="840"/><use href="#b" x="885"/><use href="#r" x="930"/></g>
</g>

<g id="row26" class="row" transform="translate(31 4042.3)"><use href="#staff"/>
<g id="m101"><text class="m" x="0" y="-7">101</text><text class="a" x="239" y="76">288</text><text class="b" x="239" y="89">95672</text><text class="c" x="239" y="101">-nan(ind)SP</text>
<use href="#r" x="60"/><use href="#o" x="90"/><use href="#b" x="120"/><use href="#b" x="150"/><use href="#r" x="165"/><use href="#b" x="180"/><use href="#b" x="195"/><use href="#g" x="210"/></g>
<g id="m102"><text class="m" x="240" y="-7">102</text><text class="a" x="479" y="76">199</text><text class="b" x="479" y="89">96866</text><text class="c" x="479" y="101">-nan(ind)SP</text>
<rect class="hy" x="360" y="26.5" width="45" height="7"/>
<use href="#y" x="240"/><use href="#y" x="300"/><use href="#y" x="360"/><use href="#b" x="420"/><use href="#y" x="450"/></g>
<g id="m103"><text class="m" x="480" y="-7">103</text><text class="a" x="719" y="76">216</text><text class="b" x="719" y="89">98162</text><text class="c" x="719" y="101">-nan(ind)SP</text>
<use href="#r" x="510"/><use href="#o" x="630"/><use href="#b" x="660"/><use href="#r" x="675"/><use href="#y" x="690"/><use href="#r" x="705"/></g>
<g id="m104"><text class="m" x="720" y="-7">104</text><text class="a" x="959" y="76">190</text><text class="b" x="959" y="89">99302</text><text class="c" x="959" y="101">-nan(ind)SP</text>
<rect class="ho" x="720" y="56.5" width="105" height="7"/><rect class="hr" x="840" y="11.5" width="45" height="7"/><rect class="ho" x="900" y="56.5" width="45" height="7"/>
<use href="#o" x="720"/><use href="#r" x="840"/><use href="#o" x="900"/></g>
</g>

<g id="row27" class="row" transform="translate(31 4195.3)"><use href="#staff"/>
<g id="m105"><text class="m" x="0" y="-7">105</text><text class="a" x="239" y="76">141</text><text class="b" x="239" y="89">100148</text><text class="c" x="239" y="101">-nan(ind)SP</text>
<rect class="hb" x="0" y="41.5" width="165" height="7"/>
<use href="#b" x="0"/><use href="#g" x="210"/></g>
<g id="m106"><text class="m" x="240" y="-7">106</text><text class="a" x="479" y="76">230</text><text class="b" x="479" y="89">101528</text><text class="c" x="479" y="101">-nan(ind)SP</text>
<rect class="hy" x="240" y="26.5" width="45" height="7"/><rect class="hy" x="360" y="26.5" width="45" height="7"/><rect class="ho" x="450" y="56.5" width="45" height="7"/>
<use href="#y" x="240"/><use href="#y" x="300"/><use href="#y" x="360"/><use href="#y" x="420"/><use href="#o" x="450"/></g>
<g id="m107"><text class="m" x="480" y="-7">107</text><text class="a" x="719" y="76">160</text><text class="b" x="719" y="89">102488</text><text class="c" x="719" y="101">-nan(ind)SP</text>
<rect class="hb" x="510" y="41.5" width="45" height="7"/><rect class="hr" x="570" y="11.5" width="210" height="7"/>
<use href="#b" x="510"/><use href="#r" x="570"/></g>
<g id="m108"><text class="m" x="720" y="-7">108</text><text class="a" x="959" y="76">26</text><text class="b" x="959" y="89">102644</text><text class="c" x="959" y="101">-nan(ind)SP</text></g>
</g>
</g>
</svg>
